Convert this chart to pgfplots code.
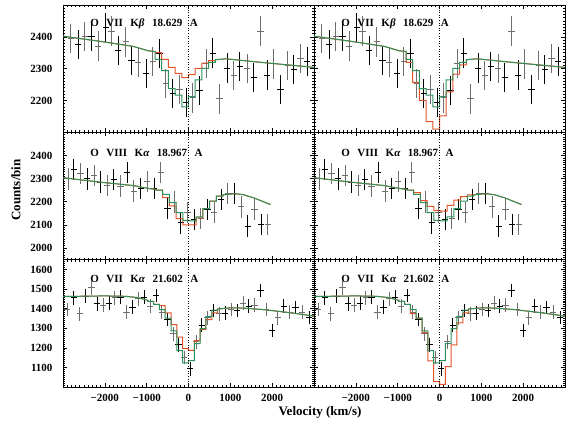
\documentclass[border=0pt]{standalone}
\usepackage{fontspec}
\setmainfont{Liberation Serif}
\usepackage{pgfplots}
\usepackage{pgfplotstable}
\pgfplotsset{compat=1.18}

\definecolor{mred}{RGB}{226,84,40}
\definecolor{mgreen}{RGB}{44,146,90}
\definecolor{dgray}{RGB}{110,110,110}
\newcommand{\lbl}{\fontsize{11}{13}\selectfont\bfseries}
\newcommand{\axlbl}{\fontsize{13}{15}\selectfont\bfseries}
\newcommand{\gap}{\hspace{7.5pt}}

% measured counts per bin (same spectra in both columns)
\pgfplotstableread{
x y
-2816 2395
-2640 2377
-2480 2400
-2320 2400
-2160 2371
-1976 2429
-1840 2418
-1680 2357
-1496 2384
-1360 2326
-1200 2320
-1016 2285
-856 2322
-696 2347
-544 2254
-376 2221
-216 2235
-56 2193
104 2208
264 2232
424 2317
584 2349
744 2205
920 2302
1080 2278
1224 2307
1400 2301
1560 2272
1720 2418
1880 2280
2040 2315
2200 2235
2376 2310
2520 2297
2680 2333
2840 2322
}\rowa

\pgfplotstableread{
x y
-2880 2299
-2744 2340
-2584 2322
-2424 2299
-2256 2314
-2104 2285
-1944 2270
-1784 2296
-1624 2268
-1464 2328
-1304 2246
-1144 2256
-984 2289
-824 2256
-664 2325
-504 2170
-344 2199
-184 2109
-24 2155
136 2124
296 2127
456 2167
616 2155
776 2210
936 2235
1096 2235
1256 2178
1416 2095
1576 2167
1736 2102
1896 2102
}\rowb

\pgfplotstableread{
x y
-2896 1395
-2744 1455
-2600 1373
-2456 1464
-2320 1506
-2184 1424
-2040 1417
-1896 1429
-1760 1455
-1624 1458
-1480 1383
-1336 1407
-1200 1450
-1056 1458
-920 1412
-776 1467
-640 1383
-504 1344
-360 1271
-240 1216
-104 1151
40 1093
184 1230
320 1315
456 1353
600 1390
744 1373
880 1378
1016 1395
1160 1390
1304 1429
1440 1412
1576 1417
1720 1493
1856 1395
2000 1288
2136 1353
2280 1412
2424 1383
2560 1406
2720 1382
2880 1355
}\rowc

\pgfplotsset{
  panel/.style={
    scale only axis, width=251pt, height=127.33pt, anchor=south west,
    xmin=-3000, xmax=3000,
    xtick={-2000,-1000,0,1000,2000},
    minor xtick={-3000,-2900,...,3000},
    tick align=inside,
    major tick length=4pt, minor tick length=2pt,
    every tick/.style={black, line width=0.6pt},
    axis line style={line width=0.9pt},
    tick label style={font=\lbl},
    /pgf/number format/assume math mode=true,
    /pgf/number format/1000 sep={},
    yticklabel style={xshift=-7pt},
    xticklabel style={yshift=-4pt},
    xticklabels={},
    clip=true,
  },
  noy/.style={yticklabels={}},
  botx/.style={xticklabels={−2000,−1000,0,1000,2000}},
  pts/.style 2 args={draw=none, mark=none, filter discard warning=false,
    error bars/.cd, x dir=both, x fixed=75, y dir=both, y fixed=#1,
    error mark=none, error bar style={draw=#2, line width=0.9pt}},
}
% data crosses, alternating grey and black
\newcommand{\data}[2]{%
  \addplot[x filter/.code={\ifodd\coordindex\def\pgfmathresult{}\fi}, pts={#2}{dgray}] table {#1};
  \addplot[x filter/.code={\ifodd\coordindex\else\def\pgfmathresult{}\fi}, pts={#2}{black}] table {#1};
}

\begin{document}
\begin{tikzpicture}
\useasboundingbox (0,0) rectangle (572pt,422pt);

% ---------- row 1: O VII K beta ----------
\begin{axis}[panel, at={(63pt,289.67pt)}, ymin=2100, ymax=2500,
  ytick={2200,2300,2400}, minor ytick={2100,2110,...,2500}]
\data{\rowa}{46}
\addplot[mred, line width=1pt] coordinates {(-3000,2402) (-2120,2386) (-1320,2370) (-960,2356) (-800,2354)
 (-800,2350) (-640,2350) (-640,2329) (-480,2329) (-480,2304) (-320,2304) (-320,2285) (-160,2285)
 (-160,2272) (0,2272) (0,2281) (160,2281) (160,2301) (320,2301) (320,2317) (480,2317) (480,2325) (640,2325)
 (640,2328) (900,2331) (1560,2322) (2360,2312) (3000,2304)};
\addplot[mgreen, line width=1pt] coordinates {(-3000,2402) (-2120,2386) (-1320,2370) (-960,2356) (-800,2354)
 (-800,2329) (-640,2329) (-640,2294) (-480,2294) (-480,2237) (-320,2237) (-320,2217) (-160,2217)
 (-160,2180) (0,2180) (0,2212) (160,2212) (160,2265) (320,2265) (320,2301) (480,2301) (480,2320) (640,2320)
 (640,2328) (900,2331) (1560,2322) (2360,2312) (3000,2304)};
\addplot[black, dotted, line width=0.6pt] coordinates {(0,2100) (0,2500)};
\node[anchor=west, font=\lbl] at (rel axis cs:0.095,0.85) {O\gap VII\gap K{\itshape β}\gap 18.629\gap A};
\end{axis}

\begin{axis}[panel, noy, at={(314pt,289.67pt)}, ymin=2100, ymax=2500,
  ytick={2200,2300,2400}, minor ytick={2100,2110,...,2500}]
\data{\rowa}{46}
\addplot[mred, line width=1pt] coordinates {(-3000,2402) (-2120,2386) (-1320,2370) (-960,2356) (-800,2354)
 (-800,2320) (-640,2320) (-640,2257) (-480,2257) (-480,2200) (-320,2200) (-320,2134) (-160,2134)
 (-160,2110) (0,2110) (0,2152) (160,2152) (160,2227) (320,2227) (320,2283) (480,2283) (480,2312) (640,2312)
 (640,2328) (900,2331) (1560,2322) (2360,2312) (3000,2304)};
\addplot[mgreen, line width=1pt] coordinates {(-3000,2402) (-2120,2386) (-1320,2370) (-960,2356) (-800,2354)
 (-800,2329) (-640,2329) (-640,2294) (-480,2294) (-480,2237) (-320,2237) (-320,2217) (-160,2217)
 (-160,2180) (0,2180) (0,2212) (160,2212) (160,2265) (320,2265) (320,2301) (480,2301) (480,2320) (640,2320)
 (640,2328) (900,2331) (1560,2322) (2360,2312) (3000,2304)};
\addplot[black, dotted, line width=0.6pt] coordinates {(0,2100) (0,2500)};
\node[anchor=west, font=\lbl] at (rel axis cs:0.095,0.85) {O\gap VII\gap K{\itshape β}\gap 18.629\gap A};
\end{axis}

% ---------- row 2: O VIII K alpha ----------
\begin{axis}[panel, at={(63pt,162.33pt)}, ymin=1950, ymax=2500,
  ytick={2000,2100,2200,2300,2400}, minor ytick={1950,1960,...,2500}]
\data{\rowb}{46}
\addplot[mred, line width=1pt] coordinates {(-3000,2304) (-2120,2285) (-1320,2270) (-936,2257) (-776,2254)
 (-776,2250) (-616,2250) (-616,2218) (-456,2218) (-456,2182) (-296,2182) (-296,2127) (-136,2127)
 (-136,2100) (24,2100) (24,2100) (184,2100) (184,2131) (344,2131) (344,2170) (504,2170) (504,2203) (664,2203)
 (664,2225) (824,2225) (824,2230) (1100,2235) (1300,2231) (1560,2217) (1960,2188)};
\addplot[mgreen, line width=1pt] coordinates {(-3000,2304) (-2120,2285) (-1320,2270) (-936,2257) (-776,2254)
 (-776,2250) (-616,2250) (-616,2232) (-456,2232) (-456,2196) (-296,2196) (-296,2153) (-136,2153)
 (-136,2120) (24,2120) (24,2118) (184,2118) (184,2135) (344,2135) (344,2170) (504,2170) (504,2203) (664,2203)
 (664,2225) (824,2225) (824,2230) (1100,2235) (1300,2231) (1560,2217) (1960,2188)};
\addplot[black, dotted, line width=0.6pt] coordinates {(0,1950) (0,2500)};
\node[anchor=west, font=\lbl] at (rel axis cs:0.095,0.84) {O\gap VIII\gap K{\itshape α}\gap 18.967\gap A};
\end{axis}

\begin{axis}[panel, noy, at={(314pt,162.33pt)}, ymin=1950, ymax=2500,
  ytick={2000,2100,2200,2300,2400}, minor ytick={1950,1960,...,2500}]
\data{\rowb}{46}
\addplot[mred, line width=1pt] coordinates {(-3000,2304) (-2120,2285) (-1320,2270) (-936,2257) (-776,2254)
 (-776,2250) (-616,2250) (-616,2240) (-456,2240) (-456,2205) (-296,2205) (-296,2180) (-136,2180)
 (-136,2162) (24,2162) (24,2160) (184,2160) (184,2185) (344,2185) (344,2207) (504,2207) (504,2222) (664,2222)
 (664,2230) (824,2230) (1100,2235) (1300,2231) (1560,2217) (1960,2188)};
\addplot[mgreen, line width=1pt] coordinates {(-3000,2304) (-2120,2285) (-1320,2270) (-936,2257) (-776,2254)
 (-776,2250) (-616,2250) (-616,2232) (-456,2232) (-456,2196) (-296,2196) (-296,2153) (-136,2153)
 (-136,2120) (24,2120) (24,2118) (184,2118) (184,2135) (344,2135) (344,2170) (504,2170) (504,2203) (664,2203)
 (664,2225) (824,2225) (824,2230) (1100,2235) (1300,2231) (1560,2217) (1960,2188)};
\addplot[black, dotted, line width=0.6pt] coordinates {(0,1950) (0,2500)};
\node[anchor=west, font=\lbl] at (rel axis cs:0.095,0.84) {O\gap VIII\gap K{\itshape α}\gap 18.967\gap A};
\end{axis}

% ---------- row 3: O VII K alpha ----------
\begin{axis}[panel, botx, at={(63pt,35pt)}, ymin=1000, ymax=1650,
  ytick={1100,1200,1300,1400,1500,1600}, minor ytick={1000,1010,...,1650}]
\data{\rowc}{35}
\addplot[mred, line width=1pt] coordinates {(-3000,1462) (-2000,1465) (-1500,1463) (-1200,1456) (-973,1442)
 (-973,1437) (-834,1437) (-834,1422) (-695,1422)
 (-695,1415) (-556,1415) (-556,1378) (-417,1378) (-417,1319) (-278,1319) (-278,1254) (-139,1254)
 (-139,1196) (0,1196) (0,1187) (139,1187) (139,1237) (278,1237) (278,1293) (417,1293) (417,1344) (556,1344)
 (556,1378) (695,1378) (695,1398) (1000,1404) (1300,1403) (1800,1395) (2400,1380) (3000,1362)};
\addplot[mgreen, line width=1pt] coordinates {(-3000,1462) (-2000,1465) (-1500,1463) (-1200,1456) (-973,1442)
 (-973,1437) (-834,1437) (-834,1422) (-695,1422)
 (-695,1395) (-556,1395) (-556,1352) (-417,1352) (-417,1286) (-278,1286) (-278,1186) (-139,1186)
 (-139,1123) (0,1123) (0,1134) (139,1134) (139,1222) (278,1222) (278,1298) (417,1298) (417,1360) (556,1360)
 (556,1393) (695,1393) (695,1398) (1000,1404) (1300,1403) (1800,1395) (2400,1380) (3000,1362)};
\addplot[black, dotted, line width=0.6pt] coordinates {(0,1000) (0,1650)};
\node[anchor=west, font=\lbl] at (rel axis cs:0.095,0.85) {O\gap VII\gap K{\itshape α}\gap 21.602\gap A};
\end{axis}

\begin{axis}[panel, noy, botx, at={(314pt,35pt)}, ymin=1000, ymax=1650,
  ytick={1100,1200,1300,1400,1500,1600}, minor ytick={1000,1010,...,1650}]
\data{\rowc}{35}
\addplot[mred, line width=1pt] coordinates {(-3000,1462) (-2000,1465) (-1500,1463) (-1200,1456) (-973,1442)
 (-973,1437) (-834,1437) (-834,1422) (-695,1422)
 (-695,1374) (-556,1374) (-556,1352) (-417,1352) (-417,1278) (-278,1278) (-278,1133) (-139,1133)
 (-139,1027) (0,1027) (0,1014) (139,1014) (139,1104) (278,1104) (278,1215) (417,1215) (417,1327) (556,1327)
 (556,1378) (695,1378) (695,1398) (1000,1404) (1300,1403) (1800,1395) (2400,1380) (3000,1362)};
\addplot[mgreen, line width=1pt] coordinates {(-3000,1462) (-2000,1465) (-1500,1463) (-1200,1456) (-973,1442)
 (-973,1437) (-834,1437) (-834,1422) (-695,1422)
 (-695,1395) (-556,1395) (-556,1352) (-417,1352) (-417,1286) (-278,1286) (-278,1186) (-139,1186)
 (-139,1123) (0,1123) (0,1134) (139,1134) (139,1222) (278,1222) (278,1298) (417,1298) (417,1360) (556,1360)
 (556,1393) (695,1393) (695,1398) (1000,1404) (1300,1403) (1800,1395) (2400,1380) (3000,1362)};
\addplot[black, dotted, line width=0.6pt] coordinates {(0,1000) (0,1650)};
\node[anchor=west, font=\lbl] at (rel axis cs:0.095,0.85) {O\gap VII\gap K{\itshape α}\gap 21.602\gap A};
\end{axis}

\node[font=\axlbl, rotate=90] at (16pt,232pt) {Counts/bin};
\node[font=\axlbl] at (320pt,10pt) {Velocity (km/s)};
\end{tikzpicture}
\end{document}
